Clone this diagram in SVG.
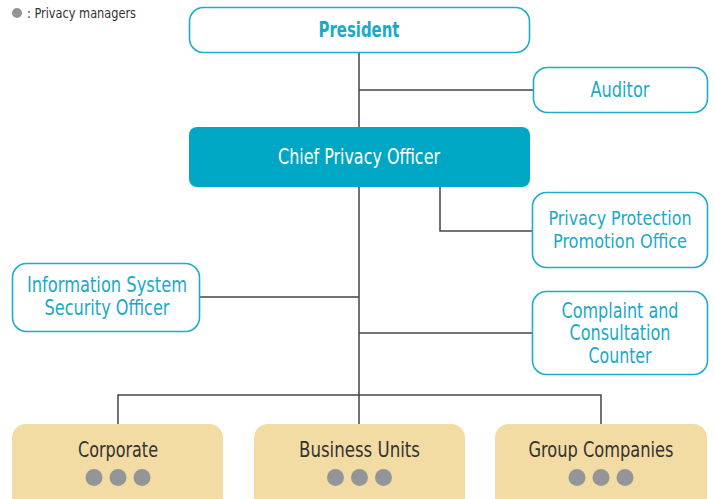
<svg xmlns="http://www.w3.org/2000/svg" width="715" height="499" viewBox="0 0 715 499">
<style>
text{font-family:"DejaVu Sans Condensed","Roboto","Liberation Sans",sans-serif;text-anchor:middle}
.ob{fill:#fff;stroke:#1badc9;stroke-width:1.6}
.bt{fill:#1aa9c8;font-size:21px}
.un{fill:#f2dca3}
.ut{fill:#333;font-size:21px}
.dot{fill:#939598}
.ln{fill:none;stroke:#444;stroke-width:1.5}
</style>
<rect width="715" height="499" fill="#fff"/>
<g id="legend">
<circle class="dot" cx="17" cy="13" r="5"/>
<text x="27" y="18" style="text-anchor:start;font-size:14px;fill:#333" textLength="109" lengthAdjust="spacingAndGlyphs">: Privacy managers</text>
</g>
<g id="connectors">
<path class="ln" d="M359 52V424M359 90H533M440 187V231H532M199 297H359M359 333H532M118 424V395H601V424"/>
</g>
<g id="president">
<rect class="ob" x="189.5" y="7.5" width="340" height="45" rx="14"/>
<text class="bt" x="359" y="37" style="font-weight:bold" textLength="81" lengthAdjust="spacingAndGlyphs">President</text>
</g>
<g id="auditor">
<rect class="ob" x="533.5" y="67.5" width="174" height="45" rx="14"/>
<text class="bt" x="620" y="97" textLength="59" lengthAdjust="spacingAndGlyphs">Auditor</text>
</g>
<g id="cpo">
<rect x="189" y="127" width="341" height="60" rx="8" fill="#00a7c4"/>
<text x="359" y="164" style="fill:#fff;font-size:21px" textLength="162" lengthAdjust="spacingAndGlyphs">Chief Privacy Officer</text>
</g>
<g id="pppo">
<rect class="ob" x="532.5" y="192.5" width="175" height="75" rx="14"/>
<text class="bt" x="620" y="225" style="font-size:20px" textLength="143" lengthAdjust="spacingAndGlyphs">Privacy Protection</text>
<text class="bt" x="620" y="248" style="font-size:20px" textLength="134" lengthAdjust="spacingAndGlyphs">Promotion Office</text>
</g>
<g id="isso">
<rect class="ob" x="12.5" y="263.5" width="187" height="68" rx="14"/>
<text class="bt" x="107" y="292" textLength="160" lengthAdjust="spacingAndGlyphs">Information System</text>
<text class="bt" x="107" y="315" textLength="125" lengthAdjust="spacingAndGlyphs">Security Officer</text>
</g>
<g id="ccc">
<rect class="ob" x="532.5" y="291.5" width="175" height="83" rx="14"/>
<text class="bt" x="620" y="318" textLength="117" lengthAdjust="spacingAndGlyphs">Complaint and</text>
<text class="bt" x="620" y="340" textLength="101" lengthAdjust="spacingAndGlyphs">Consultation</text>
<text class="bt" x="620" y="363" textLength="63" lengthAdjust="spacingAndGlyphs">Counter</text>
</g>
<g id="corporate">
<rect class="un" x="12" y="424" width="211" height="90" rx="14"/>
<text class="ut" x="118" y="457" textLength="80" lengthAdjust="spacingAndGlyphs">Corporate</text>
<circle class="dot" cx="94" cy="477.5" r="8.5"/><circle class="dot" cx="118" cy="477.5" r="8.5"/><circle class="dot" cx="142" cy="477.5" r="8.5"/>
</g>
<g id="business">
<rect class="un" x="254" y="424" width="211" height="90" rx="14"/>
<text class="ut" x="359.5" y="457" textLength="121" lengthAdjust="spacingAndGlyphs">Business Units</text>
<circle class="dot" cx="335.5" cy="477.5" r="8.5"/><circle class="dot" cx="359.5" cy="477.5" r="8.5"/><circle class="dot" cx="383.5" cy="477.5" r="8.5"/>
</g>
<g id="group">
<rect class="un" x="495" y="424" width="212" height="90" rx="14"/>
<text class="ut" x="601" y="457" textLength="145" lengthAdjust="spacingAndGlyphs">Group Companies</text>
<circle class="dot" cx="577" cy="477.5" r="8.5"/><circle class="dot" cx="601" cy="477.5" r="8.5"/><circle class="dot" cx="625" cy="477.5" r="8.5"/>
</g>
</svg>
